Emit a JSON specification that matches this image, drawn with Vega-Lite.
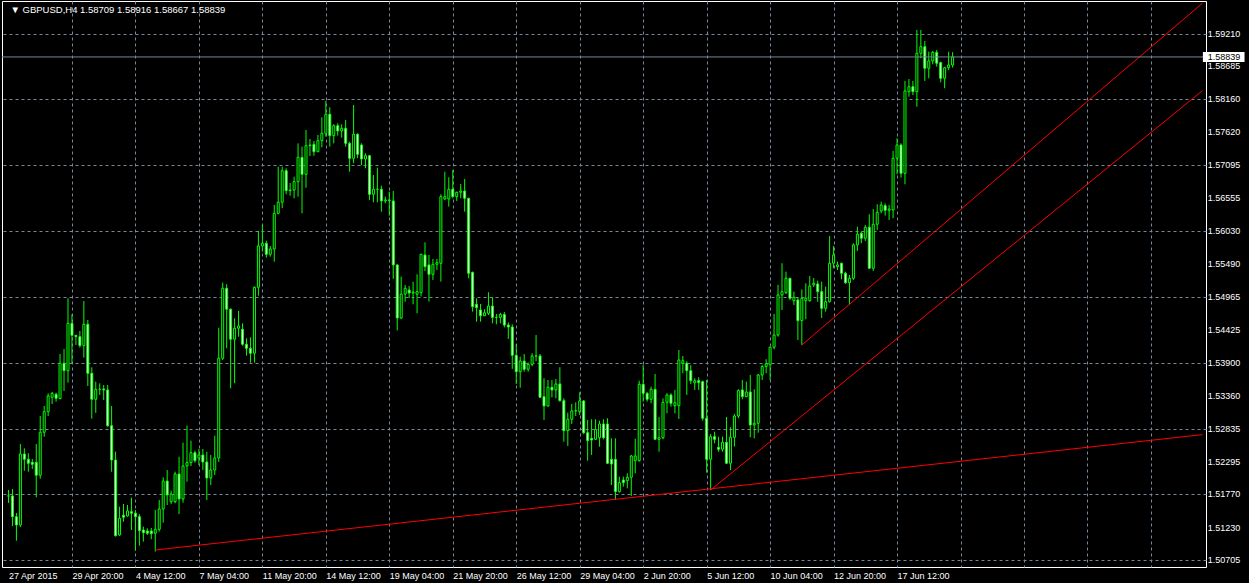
{
"$schema": "https://vega.github.io/schema/vega-lite/v6.json",
"width": 1204, "height": 566,
"autosize": {"type": "none"},
"padding": {"left": 2, "top": 1, "right": 43, "bottom": 16},
"background": "#000000",
"view": {"fill": "#000000", "stroke": "#ffffff", "strokeWidth": 1},
"config": {"font": "Liberation Sans"},
"datasets": {
"candles": [
{"i":0,"o":1.51745,"h":1.51842,"l":1.51632,"c":1.51745},
{"i":1,"o":1.51745,"h":1.51858,"l":1.51260,"c":1.51410},
{"i":2,"o":1.51410,"h":1.51470,"l":1.51022,"c":1.51276},
{"i":3,"o":1.51276,"h":1.52585,"l":1.51243,"c":1.52423},
{"i":4,"o":1.52423,"h":1.52515,"l":1.52153,"c":1.52338},
{"i":5,"o":1.52338,"h":1.52435,"l":1.52137,"c":1.52273},
{"i":6,"o":1.52289,"h":1.52343,"l":1.52180,"c":1.52257},
{"i":7,"o":1.52289,"h":1.52585,"l":1.51724,"c":1.52080},
{"i":8,"o":1.52080,"h":1.53037,"l":1.52024,"c":1.52774},
{"i":9,"o":1.52774,"h":1.53199,"l":1.52703,"c":1.53107},
{"i":10,"o":1.53107,"h":1.53404,"l":1.53037,"c":1.53361},
{"i":11,"o":1.53340,"h":1.53425,"l":1.53231,"c":1.53404},
{"i":12,"o":1.53388,"h":1.53414,"l":1.53269,"c":1.53323},
{"i":13,"o":1.53317,"h":1.54039,"l":1.53307,"c":1.53889},
{"i":14,"o":1.53889,"h":1.54120,"l":1.53441,"c":1.53769},
{"i":15,"o":1.53769,"h":1.54939,"l":1.53575,"c":1.54535},
{"i":16,"o":1.54535,"h":1.54680,"l":1.53878,"c":1.54341},
{"i":17,"o":1.54341,"h":1.54346,"l":1.54185,"c":1.54319},
{"i":18,"o":1.54319,"h":1.54411,"l":1.54141,"c":1.54174},
{"i":19,"o":1.54174,"h":1.54896,"l":1.53980,"c":1.54519},
{"i":20,"o":1.54519,"h":1.54589,"l":1.53522,"c":1.53727},
{"i":21,"o":1.53727,"h":1.53824,"l":1.52993,"c":1.53307},
{"i":22,"o":1.53307,"h":1.53592,"l":1.53088,"c":1.53469},
{"i":23,"o":1.53469,"h":1.53565,"l":1.53377,"c":1.53469},
{"i":24,"o":1.53474,"h":1.53538,"l":1.53296,"c":1.53458},
{"i":25,"o":1.53458,"h":1.53538,"l":1.52860,"c":1.52881},
{"i":26,"o":1.52881,"h":1.53199,"l":1.52137,"c":1.52326},
{"i":27,"o":1.52326,"h":1.52461,"l":1.51090,"c":1.51103},
{"i":28,"o":1.51115,"h":1.51572,"l":1.51100,"c":1.51384},
{"i":29,"o":1.51434,"h":1.51616,"l":1.51329,"c":1.51401},
{"i":30,"o":1.51422,"h":1.51599,"l":1.51410,"c":1.51503},
{"i":31,"o":1.51491,"h":1.51717,"l":1.51195,"c":1.51466},
{"i":32,"o":1.51466,"h":1.51518,"l":1.50861,"c":1.51410},
{"i":33,"o":1.51410,"h":1.51453,"l":1.50941,"c":1.51184},
{"i":34,"o":1.51195,"h":1.51249,"l":1.51007,"c":1.51151},
{"i":35,"o":1.51179,"h":1.51222,"l":1.51115,"c":1.51142},
{"i":36,"o":1.51179,"h":1.51228,"l":1.51045,"c":1.51135},
{"i":37,"o":1.51142,"h":1.51519,"l":1.50845,"c":1.51206},
{"i":38,"o":1.51206,"h":1.51680,"l":1.51168,"c":1.51535},
{"i":39,"o":1.51535,"h":1.52047,"l":1.51313,"c":1.51987},
{"i":40,"o":1.51987,"h":1.52164,"l":1.51599,"c":1.51761},
{"i":41,"o":1.51653,"h":1.51831,"l":1.51615,"c":1.51777},
{"i":42,"o":1.51653,"h":1.52137,"l":1.51627,"c":1.52100},
{"i":43,"o":1.52100,"h":1.52380,"l":1.51453,"c":1.51696},
{"i":44,"o":1.51696,"h":1.52606,"l":1.51636,"c":1.52229},
{"i":45,"o":1.52229,"h":1.52884,"l":1.51976,"c":1.52283},
{"i":46,"o":1.52283,"h":1.52639,"l":1.52229,"c":1.52444},
{"i":47,"o":1.52444,"h":1.52477,"l":1.52283,"c":1.52315},
{"i":48,"o":1.52359,"h":1.52504,"l":1.52245,"c":1.52407},
{"i":49,"o":1.52407,"h":1.52504,"l":1.52164,"c":1.52294},
{"i":50,"o":1.52294,"h":1.52456,"l":1.51680,"c":1.52035},
{"i":51,"o":1.52035,"h":1.52407,"l":1.51922,"c":1.52164},
{"i":52,"o":1.52164,"h":1.52719,"l":1.52084,"c":1.52359},
{"i":53,"o":1.52359,"h":1.54464,"l":1.52294,"c":1.53970},
{"i":54,"o":1.53970,"h":1.55192,"l":1.53942,"c":1.55101},
{"i":55,"o":1.55101,"h":1.55166,"l":1.54131,"c":1.54762},
{"i":56,"o":1.54762,"h":1.54775,"l":1.53485,"c":1.54277},
{"i":57,"o":1.54277,"h":1.54616,"l":1.53565,"c":1.54455},
{"i":58,"o":1.54455,"h":1.54734,"l":1.54318,"c":1.54492},
{"i":59,"o":1.54438,"h":1.54535,"l":1.54174,"c":1.54196},
{"i":60,"o":1.54196,"h":1.54293,"l":1.54012,"c":1.54131},
{"i":61,"o":1.54131,"h":1.54309,"l":1.53899,"c":1.54051},
{"i":62,"o":1.54051,"h":1.55130,"l":1.53899,"c":1.55117},
{"i":63,"o":1.55117,"h":1.56027,"l":1.54981,"c":1.55785},
{"i":64,"o":1.55785,"h":1.56124,"l":1.55693,"c":1.55828},
{"i":65,"o":1.55828,"h":1.55870,"l":1.55595,"c":1.55650},
{"i":66,"o":1.55650,"h":1.55785,"l":1.55612,"c":1.55736},
{"i":67,"o":1.55736,"h":1.56447,"l":1.55531,"c":1.56312},
{"i":68,"o":1.56312,"h":1.57065,"l":1.56296,"c":1.56491},
{"i":69,"o":1.56491,"h":1.57065,"l":1.56394,"c":1.57001},
{"i":70,"o":1.57001,"h":1.57040,"l":1.56620,"c":1.56678},
{"i":71,"o":1.56678,"h":1.56802,"l":1.56597,"c":1.56689},
{"i":72,"o":1.56689,"h":1.56904,"l":1.56555,"c":1.56823},
{"i":73,"o":1.56823,"h":1.57443,"l":1.56581,"c":1.57217},
{"i":74,"o":1.57217,"h":1.57389,"l":1.56313,"c":1.56942},
{"i":75,"o":1.56942,"h":1.57659,"l":1.56726,"c":1.57405},
{"i":76,"o":1.57405,"h":1.57513,"l":1.57238,"c":1.57416},
{"i":77,"o":1.57427,"h":1.57481,"l":1.57243,"c":1.57308},
{"i":78,"o":1.57308,"h":1.57578,"l":1.57300,"c":1.57486},
{"i":79,"o":1.57486,"h":1.57864,"l":1.57379,"c":1.57605},
{"i":80,"o":1.57605,"h":1.58127,"l":1.57551,"c":1.57912},
{"i":81,"o":1.57912,"h":1.58026,"l":1.57389,"c":1.57567},
{"i":82,"o":1.57567,"h":1.57751,"l":1.57443,"c":1.57728},
{"i":83,"o":1.57728,"h":1.57767,"l":1.57567,"c":1.57643},
{"i":84,"o":1.57643,"h":1.57751,"l":1.57534,"c":1.57686},
{"i":85,"o":1.57686,"h":1.57820,"l":1.57389,"c":1.57443},
{"i":86,"o":1.57443,"h":1.57470,"l":1.56985,"c":1.57201},
{"i":87,"o":1.57201,"h":1.58063,"l":1.57121,"c":1.57589},
{"i":88,"o":1.57589,"h":1.57605,"l":1.57201,"c":1.57266},
{"i":89,"o":1.57416,"h":1.57443,"l":1.57093,"c":1.57190},
{"i":90,"o":1.57190,"h":1.57282,"l":1.57040,"c":1.57243},
{"i":91,"o":1.57243,"h":1.57255,"l":1.56528,"c":1.56620},
{"i":92,"o":1.56620,"h":1.56932,"l":1.56491,"c":1.56701},
{"i":93,"o":1.56701,"h":1.57050,"l":1.56491,"c":1.56701},
{"i":94,"o":1.56701,"h":1.56758,"l":1.56339,"c":1.56512},
{"i":95,"o":1.56512,"h":1.56582,"l":1.56474,"c":1.56528},
{"i":96,"o":1.56528,"h":1.56662,"l":1.56274,"c":1.56520},
{"i":97,"o":1.56512,"h":1.56673,"l":1.55252,"c":1.55478},
{"i":98,"o":1.55478,"h":1.55490,"l":1.54419,"c":1.54621},
{"i":99,"o":1.54621,"h":1.55289,"l":1.54605,"c":1.55008},
{"i":100,"o":1.55008,"h":1.55155,"l":1.54885,"c":1.55101},
{"i":101,"o":1.55073,"h":1.55138,"l":1.54944,"c":1.55024},
{"i":102,"o":1.55024,"h":1.55207,"l":1.54842,"c":1.55040},
{"i":103,"o":1.55004,"h":1.55327,"l":1.54697,"c":1.55046},
{"i":104,"o":1.55030,"h":1.55656,"l":1.54969,"c":1.55651},
{"i":105,"o":1.55639,"h":1.55844,"l":1.55380,"c":1.55450},
{"i":106,"o":1.55478,"h":1.55639,"l":1.54885,"c":1.55327},
{"i":107,"o":1.55327,"h":1.55575,"l":1.55235,"c":1.55489},
{"i":108,"o":1.55489,"h":1.55575,"l":1.55397,"c":1.55515},
{"i":109,"o":1.55505,"h":1.56620,"l":1.55208,"c":1.56582},
{"i":110,"o":1.56544,"h":1.56985,"l":1.56528,"c":1.56582},
{"i":111,"o":1.56544,"h":1.56895,"l":1.56420,"c":1.56701},
{"i":112,"o":1.56701,"h":1.57012,"l":1.56555,"c":1.56582},
{"i":113,"o":1.56582,"h":1.56662,"l":1.56512,"c":1.56652},
{"i":114,"o":1.56652,"h":1.56786,"l":1.56555,"c":1.56673},
{"i":115,"o":1.56673,"h":1.56867,"l":1.56339,"c":1.56555},
{"i":116,"o":1.56555,"h":1.56565,"l":1.55262,"c":1.55343},
{"i":117,"o":1.55359,"h":1.55369,"l":1.54723,"c":1.54803},
{"i":118,"o":1.54842,"h":1.54939,"l":1.54561,"c":1.54787},
{"i":119,"o":1.54750,"h":1.54847,"l":1.54561,"c":1.54658},
{"i":120,"o":1.54658,"h":1.54762,"l":1.54650,"c":1.54706},
{"i":121,"o":1.54696,"h":1.55036,"l":1.54669,"c":1.54814},
{"i":122,"o":1.54814,"h":1.54955,"l":1.54535,"c":1.54631},
{"i":123,"o":1.54631,"h":1.54685,"l":1.54519,"c":1.54631},
{"i":124,"o":1.54631,"h":1.54706,"l":1.54535,"c":1.54678},
{"i":125,"o":1.54678,"h":1.54718,"l":1.54468,"c":1.54507},
{"i":126,"o":1.54507,"h":1.54549,"l":1.54282,"c":1.54475},
{"i":127,"o":1.54475,"h":1.54519,"l":1.53797,"c":1.54018},
{"i":128,"o":1.54018,"h":1.54197,"l":1.53554,"c":1.53753},
{"i":129,"o":1.53753,"h":1.53996,"l":1.53494,"c":1.53926},
{"i":130,"o":1.53926,"h":1.54039,"l":1.53753,"c":1.53792},
{"i":131,"o":1.53792,"h":1.53899,"l":1.53753,"c":1.53872},
{"i":132,"o":1.53872,"h":1.54051,"l":1.53840,"c":1.54007},
{"i":133,"o":1.54007,"h":1.54346,"l":1.53921,"c":1.54007},
{"i":134,"o":1.54007,"h":1.54039,"l":1.53328,"c":1.53339},
{"i":135,"o":1.53350,"h":1.53647,"l":1.52973,"c":1.53199},
{"i":136,"o":1.53199,"h":1.53619,"l":1.53188,"c":1.53501},
{"i":137,"o":1.53501,"h":1.53619,"l":1.53339,"c":1.53458},
{"i":138,"o":1.53458,"h":1.53635,"l":1.53323,"c":1.53555},
{"i":139,"o":1.53555,"h":1.53825,"l":1.53269,"c":1.53285},
{"i":140,"o":1.53285,"h":1.53323,"l":1.52623,"c":1.52800},
{"i":141,"o":1.52800,"h":1.53091,"l":1.52553,"c":1.52984},
{"i":142,"o":1.52984,"h":1.53231,"l":1.52908,"c":1.53118},
{"i":143,"o":1.53118,"h":1.53258,"l":1.53037,"c":1.53123},
{"i":144,"o":1.53107,"h":1.53420,"l":1.53053,"c":1.53280},
{"i":145,"o":1.53280,"h":1.53296,"l":1.52746,"c":1.52767},
{"i":146,"o":1.52767,"h":1.52973,"l":1.52315,"c":1.52638},
{"i":147,"o":1.52676,"h":1.52984,"l":1.52407,"c":1.52649},
{"i":148,"o":1.52660,"h":1.52984,"l":1.52649,"c":1.52822},
{"i":149,"o":1.52686,"h":1.52961,"l":1.52542,"c":1.52908},
{"i":150,"o":1.52908,"h":1.52984,"l":1.52660,"c":1.52686},
{"i":151,"o":1.52908,"h":1.53001,"l":1.52262,"c":1.52273},
{"i":152,"o":1.52338,"h":1.52676,"l":1.51922,"c":1.52262},
{"i":153,"o":1.52338,"h":1.52676,"l":1.51680,"c":1.51815},
{"i":154,"o":1.51815,"h":1.52057,"l":1.51800,"c":1.51960},
{"i":155,"o":1.52003,"h":1.52057,"l":1.51895,"c":1.51960},
{"i":156,"o":1.51992,"h":1.52111,"l":1.51869,"c":1.52047},
{"i":157,"o":1.52047,"h":1.52407,"l":1.51745,"c":1.52391},
{"i":158,"o":1.52315,"h":1.52670,"l":1.52111,"c":1.52391},
{"i":159,"o":1.52315,"h":1.53608,"l":1.52299,"c":1.53550},
{"i":160,"o":1.53550,"h":1.53862,"l":1.53269,"c":1.53404},
{"i":161,"o":1.53404,"h":1.53425,"l":1.53269,"c":1.53307},
{"i":162,"o":1.53307,"h":1.53511,"l":1.53242,"c":1.53469},
{"i":163,"o":1.53469,"h":1.53716,"l":1.52649,"c":1.52660},
{"i":164,"o":1.52660,"h":1.53020,"l":1.52461,"c":1.52686},
{"i":165,"o":1.52686,"h":1.53323,"l":1.52660,"c":1.53258},
{"i":166,"o":1.53258,"h":1.53404,"l":1.53081,"c":1.53377},
{"i":167,"o":1.53377,"h":1.53404,"l":1.53188,"c":1.53242},
{"i":168,"o":1.53204,"h":1.53458,"l":1.53081,"c":1.53252},
{"i":169,"o":1.53204,"h":1.54104,"l":1.52989,"c":1.53942},
{"i":170,"o":1.53889,"h":1.54007,"l":1.53727,"c":1.53931},
{"i":171,"o":1.53889,"h":1.53921,"l":1.53377,"c":1.53769},
{"i":172,"o":1.53769,"h":1.53862,"l":1.53555,"c":1.53608},
{"i":173,"o":1.53576,"h":1.53647,"l":1.53458,"c":1.53608},
{"i":174,"o":1.53608,"h":1.53663,"l":1.53458,"c":1.53576},
{"i":175,"o":1.53592,"h":1.53608,"l":1.52961,"c":1.53000},
{"i":176,"o":1.53000,"h":1.53619,"l":1.52121,"c":1.52338},
{"i":177,"o":1.52338,"h":1.52746,"l":1.51842,"c":1.52703},
{"i":178,"o":1.52703,"h":1.52784,"l":1.52596,"c":1.52660},
{"i":179,"o":1.52531,"h":1.52703,"l":1.52461,"c":1.52499},
{"i":180,"o":1.52499,"h":1.52703,"l":1.52461,"c":1.52612},
{"i":181,"o":1.52612,"h":1.53020,"l":1.52262,"c":1.52273},
{"i":182,"o":1.52273,"h":1.52855,"l":1.52164,"c":1.52693},
{"i":183,"o":1.52693,"h":1.53070,"l":1.52542,"c":1.53037},
{"i":184,"o":1.53037,"h":1.53469,"l":1.53000,"c":1.53447},
{"i":185,"o":1.53458,"h":1.53619,"l":1.53307,"c":1.53350},
{"i":186,"o":1.53350,"h":1.53592,"l":1.53339,"c":1.53425},
{"i":187,"o":1.53425,"h":1.53700,"l":1.52693,"c":1.52892},
{"i":188,"o":1.52892,"h":1.53469,"l":1.52676,"c":1.52919},
{"i":189,"o":1.52919,"h":1.53716,"l":1.52767,"c":1.53700},
{"i":190,"o":1.53700,"h":1.53862,"l":1.53619,"c":1.53835},
{"i":191,"o":1.53835,"h":1.53954,"l":1.53727,"c":1.53878},
{"i":192,"o":1.53862,"h":1.54158,"l":1.53619,"c":1.54148},
{"i":193,"o":1.54148,"h":1.54685,"l":1.54115,"c":1.54346},
{"i":194,"o":1.54346,"h":1.55155,"l":1.54318,"c":1.54993},
{"i":195,"o":1.54993,"h":1.55505,"l":1.54750,"c":1.55046},
{"i":196,"o":1.55030,"h":1.55369,"l":1.55010,"c":1.55262},
{"i":197,"o":1.55262,"h":1.55270,"l":1.54912,"c":1.54939},
{"i":198,"o":1.54901,"h":1.55046,"l":1.54831,"c":1.54955},
{"i":199,"o":1.54912,"h":1.54955,"l":1.54265,"c":1.54578},
{"i":200,"o":1.54578,"h":1.55084,"l":1.54185,"c":1.54939},
{"i":201,"o":1.54901,"h":1.55181,"l":1.54600,"c":1.54939},
{"i":202,"o":1.54901,"h":1.55300,"l":1.54885,"c":1.55138},
{"i":203,"o":1.55155,"h":1.55268,"l":1.55122,"c":1.55181},
{"i":204,"o":1.55171,"h":1.55224,"l":1.54885,"c":1.55046},
{"i":205,"o":1.55046,"h":1.55208,"l":1.54621,"c":1.54777},
{"i":206,"o":1.54777,"h":1.55127,"l":1.54723,"c":1.54885},
{"i":207,"o":1.54885,"h":1.55946,"l":1.54870,"c":1.55505},
{"i":208,"o":1.55505,"h":1.55785,"l":1.55424,"c":1.55639},
{"i":209,"o":1.55450,"h":1.55531,"l":1.55397,"c":1.55478},
{"i":210,"o":1.55505,"h":1.55515,"l":1.55246,"c":1.55343},
{"i":211,"o":1.55343,"h":1.55369,"l":1.55171,"c":1.55192},
{"i":212,"o":1.55192,"h":1.55316,"l":1.54831,"c":1.55262},
{"i":213,"o":1.55262,"h":1.55828,"l":1.55235,"c":1.55801},
{"i":214,"o":1.55801,"h":1.56096,"l":1.55704,"c":1.55974},
{"i":215,"o":1.55990,"h":1.56016,"l":1.55828,"c":1.55909},
{"i":216,"o":1.55909,"h":1.56124,"l":1.55866,"c":1.56087},
{"i":217,"o":1.56087,"h":1.56297,"l":1.55413,"c":1.55424},
{"i":218,"o":1.55424,"h":1.56381,"l":1.55380,"c":1.56135},
{"i":219,"o":1.56135,"h":1.56458,"l":1.56043,"c":1.56329},
{"i":220,"o":1.56350,"h":1.56500,"l":1.56313,"c":1.56447},
{"i":221,"o":1.56436,"h":1.56474,"l":1.56274,"c":1.56361},
{"i":222,"o":1.56361,"h":1.56447,"l":1.56205,"c":1.56382},
{"i":223,"o":1.56366,"h":1.57320,"l":1.56232,"c":1.57202},
{"i":224,"o":1.57202,"h":1.57525,"l":1.56945,"c":1.57416},
{"i":225,"o":1.57416,"h":1.57443,"l":1.56888,"c":1.56958},
{"i":226,"o":1.56958,"h":1.58451,"l":1.56781,"c":1.58289},
{"i":227,"o":1.58278,"h":1.58483,"l":1.58197,"c":1.58358},
{"i":228,"o":1.58358,"h":1.58451,"l":1.58224,"c":1.58278},
{"i":229,"o":1.58278,"h":1.59275,"l":1.58035,"c":1.58898},
{"i":230,"o":1.58898,"h":1.59275,"l":1.58817,"c":1.59005},
{"i":231,"o":1.59005,"h":1.59097,"l":1.58451,"c":1.58656},
{"i":232,"o":1.58656,"h":1.58924,"l":1.58494,"c":1.58774},
{"i":233,"o":1.58774,"h":1.58935,"l":1.58720,"c":1.58914},
{"i":234,"o":1.58914,"h":1.58952,"l":1.58682,"c":1.58737},
{"i":235,"o":1.58746,"h":1.58763,"l":1.58430,"c":1.58494},
{"i":236,"o":1.58494,"h":1.58680,"l":1.58333,"c":1.58665},
{"i":237,"o":1.58665,"h":1.58924,"l":1.58628,"c":1.58709},
{"i":238,"o":1.58709,"h":1.58916,"l":1.58667,"c":1.58839}
],
"trend": [
{"line":"A","i":37,"p":1.50872},{"line":"A","i":301,"p":1.52736},
{"line":"B","i":177,"p":1.51842},{"line":"B","i":301,"p":1.58294},
{"line":"C","i":200,"p":1.54185},{"line":"C","i":301,"p":1.59708}
],
"yticks": [{"v":1.50705},{"v":1.51230},{"v":1.51770},{"v":1.52295},{"v":1.52835},{"v":1.53360},{"v":1.53900},{"v":1.54425},{"v":1.54965},{"v":1.55490},{"v":1.56030},{"v":1.56555},{"v":1.57095},{"v":1.57620},{"v":1.58160},{"v":1.58685},{"v":1.59210}],
"bid": [{"p":1.58839}]
},
"layer": [
{
"data": {"name": "candles"},
"mark": {"type": "rule", "color": "#00ff00", "strokeWidth": 1},
"encoding": {
"x": {"field": "i", "type": "quantitative",
"scale": {"domain": [-0.375, 300.625], "nice": false, "zero": false},
"axis": {"title": null, "values": [0,8,16,24,32,40,48,56,64,72,80,88,96,104,112,120,128,136,144,152,160,168,176,184,192,200,208,216,224,232,240,248,256,264,272,280,288,296],
"labelExpr": "datum.value % 16 == 0 && datum.value <= 224 ? ['27 Apr 2015','29 Apr 20:00','4 May 12:00','7 May 04:00','11 May 20:00','14 May 12:00','19 May 04:00','21 May 20:00','26 May 12:00','29 May 04:00','2 Jun 20:00','5 Jun 12:00','10 Jun 04:00','12 Jun 20:00','17 Jun 12:00'][datum.value / 16] : ''",
"grid": true, "gridColor": "#778899", "gridDash": [3, 3],
"gridOpacity": {"condition": {"test": "datum.value == 0", "value": 0}, "value": 1},
"ticks": false, "domain": false, "labelColor": "#ffffff", "labelFont": "Liberation Sans", "labelFontSize": 9,
"labelAlign": "left", "labelBaseline": "top", "labelPadding": 4, "labelOverlap": false, "labelBound": false, "labelFlush": false}},
"y": {"field": "l", "type": "quantitative",
"scale": {"domain": [1.50597, 1.59743], "nice": false, "zero": false},
"axis": {"title": null, "orient": "right", "values": [1.50705,1.51230,1.51770,1.52295,1.52835,1.53360,1.53900,1.54425,1.54965,1.55490,1.56030,1.56555,1.57095,1.57620,1.58160,1.58685,1.59210],
"grid": true, "gridColor": "#778899", "gridDash": [3, 3],
"ticks": false, "domain": false, "labels": false}},
"y2": {"field": "h"}
}
},
{
"data": {"name": "candles"},
"mark": {"type": "bar", "width": 2, "stroke": "#00ff00", "strokeWidth": 1},
"encoding": {
"x": {"field": "i", "type": "quantitative"},
"y": {"field": "o", "type": "quantitative"},
"y2": {"field": "c"},
"fill": {"condition": {"test": "datum.c < datum.o", "value": "#ffffff"}, "value": "#000000"}
}
},
{
"data": {"name": "trend"},
"mark": {"type": "line", "color": "#ff0000", "strokeWidth": 1, "clip": true},
"encoding": {
"x": {"field": "i", "type": "quantitative"},
"y": {"field": "p", "type": "quantitative"},
"detail": {"field": "line"}
}
},
{
"data": {"name": "bid"},
"mark": {"type": "rule", "color": "#778899", "strokeWidth": 1},
"encoding": {"y": {"field": "p", "type": "quantitative"}}
},
{
"data": {"name": "yticks"},
"mark": {"type": "text", "color": "#ffffff", "align": "left", "baseline": "middle", "font": "Liberation Sans", "fontSize": 9},
"encoding": {"x": {"datum": 302.3}, "y": {"field": "v", "type": "quantitative"}, "text": {"field": "v", "type": "quantitative", "format": ".5f"}}
},
{
"data": {"name": "bid"},
"mark": {"type": "rule", "color": "#ffffff", "strokeWidth": 10, "strokeCap": "butt"},
"encoding": {"x": {"datum": 301.1}, "x2": {"datum": 311.6}, "y": {"field": "p", "type": "quantitative"}}
},
{
"data": {"name": "bid"},
"mark": {"type": "text", "color": "#000000", "align": "left", "baseline": "middle", "font": "Liberation Sans", "fontSize": 9},
"encoding": {"x": {"datum": 302.3}, "y": {"field": "p", "type": "quantitative"}, "text": {"field": "p", "type": "quantitative", "format": ".5f"}}
},
{
"data": {"name": "bid"},
"mark": {"type": "text", "color": "#ffffff", "align": "left", "baseline": "middle", "font": "Liberation Sans", "fontSize": 9.5},
"encoding": {"x": {"datum": 0.5}, "y": {"datum": 1.59598}, "text": {"value": "▼  GBPUSD,H4  1.58709 1.58916 1.58667 1.58839"}}
}
]
}
